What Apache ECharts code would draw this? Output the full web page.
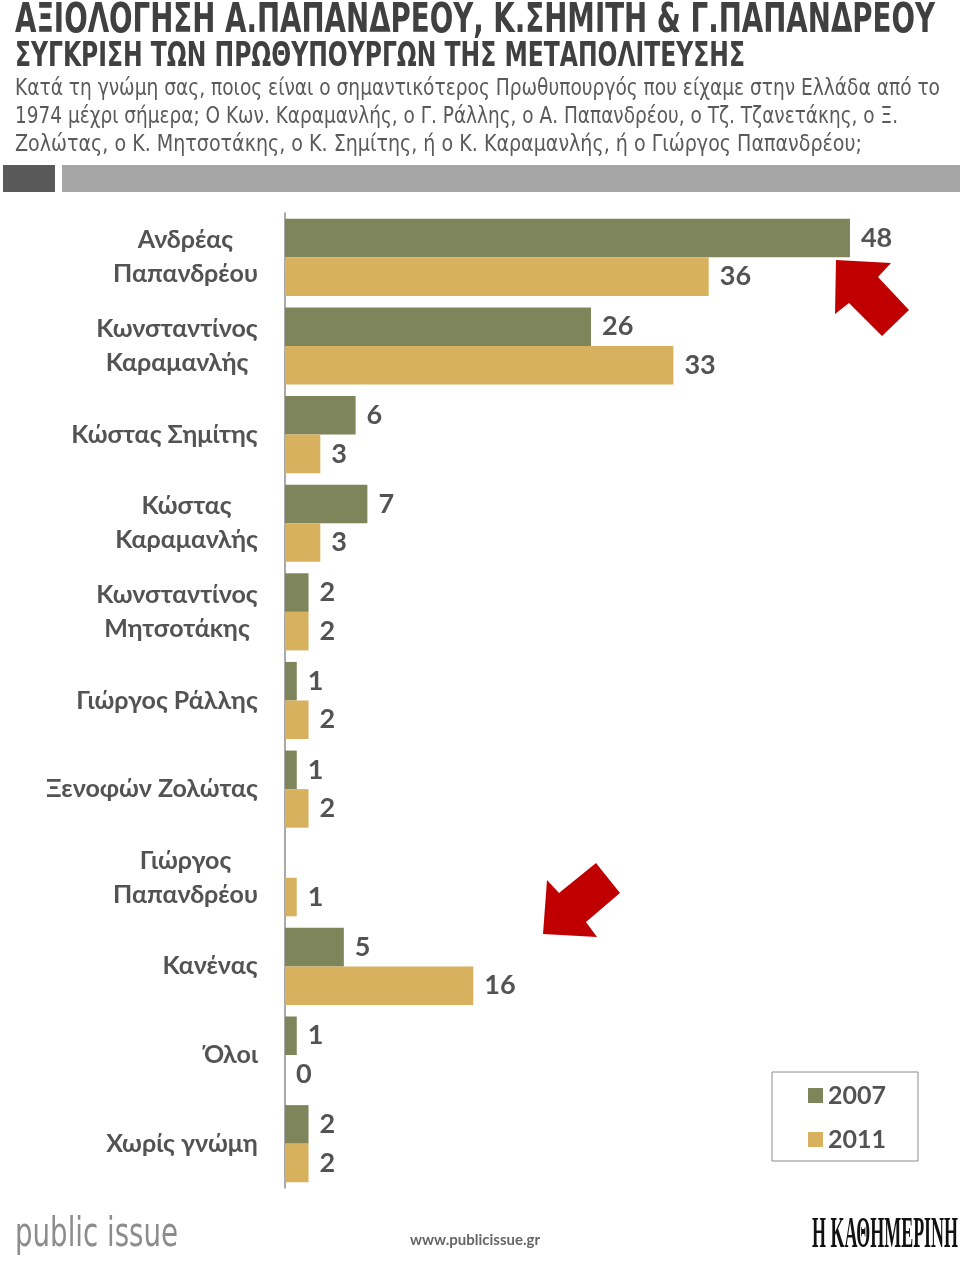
<!DOCTYPE html>
<html>
<head>
<meta charset="utf-8">
<script src="https://cdn.jsdelivr.net/npm/echarts@6/dist/echarts.min.js"></script>
<style>
  html, body { margin: 0; padding: 0; background: #fff; }
  #chart { width: 960px; height: 1266px; }
</style>
</head>
<body>
<div id="chart"></div>
<script>
// δεδομένα
var categories = [
  'Ανδρέας\nΠαπανδρέου',
  'Κωνσταντίνος\nΚαραμανλής',
  'Κώστας Σημίτης',
  'Κώστας\nΚαραμανλής',
  'Κωνσταντίνος\nΜητσοτάκης',
  'Γιώργος Ράλλης',
  'Ξενοφών Ζολώτας',
  'Γιώργος\nΠαπανδρέου',
  'Κανένας',
  'Όλοι',
  'Χωρίς γνώμη'
];
var seriesNames = ['2007', '2011'];
var values2007 = [48, 26, 6, 7, 2, 1, 1, null, 5, 1, 2];
var values2011 = [36, 33, 3, 3, 2, 2, 2, 1, 16, 0, 2];

var titleText = 'ΑΞΙΟΛΟΓΗΣΗ Α.ΠΑΠΑΝΔΡΕΟΥ, Κ.ΣΗΜΙΤΗ & Γ.ΠΑΠΑΝΔΡΕΟΥ';
var subtitleText = 'ΣΥΓΚΡΙΣΗ ΤΩΝ ΠΡΩΘΥΠΟΥΡΓΩΝ ΤΗΣ ΜΕΤΑΠΟΛΙΤΕΥΣΗΣ';
var questionLines = [
  'Κατά τη γνώμη σας, ποιος είναι ο σημαντικότερος Πρωθυπουργός που είχαμε στην Ελλάδα από το',
  '1974 μέχρι σήμερα; Ο Κων. Καραμανλής, ο Γ. Ράλλης, ο Α. Παπανδρέου, ο Τζ. Τζανετάκης, ο Ξ.',
  'Ζολώτας, ο Κ. Μητσοτάκης, ο Κ. Σημίτης, ή ο Κ. Καραμανλής, ή ο Γιώργος Παπανδρέου;'
];

var colors = ['#7f855a', '#d8b15e'];
var textGray = '#535353';
var labelFont = '"Lato", "Noto Sans", sans-serif';

var ctx = document.createElement('canvas').getContext('2d');
function textWidth(str, font) {
  ctx.font = font;
  return ctx.measureText(str).width;
}

// για τις ετικέτες δύο γραμμών: κάθε γραμμή στο κέντρο, το μπλοκ δεξιά
var rich = {};
categories.forEach(function (c, i) {
  var w = 0;
  c.split('\n').forEach(function (l) {
    w = Math.max(w, textWidth(l, 'bold 25px ' + labelFont));
  });
  rich['c' + i] = {
    width: Math.ceil(w), align: 'center', lineHeight: 34,
    fontSize: 25, fontWeight: 'bold', fontFamily: labelFont, color: textGray
  };
});

// κείμενο στριμωγμένο σε συγκεκριμένο πλάτος
var condFont = '"Liberation Sans Narrow", "DejaVu Sans Condensed", "Roboto", sans-serif';
function fitText(str, x, y, w, size, weight, color, family) {
  var font = weight + ' ' + size + 'px ' + family;
  var sx = w / textWidth(str, font);
  return {
    type: 'text', x: x, y: y, scaleX: sx, originX: 0, originY: 0,
    style: { text: str, font: font, fill: color, textVerticalAlign: 'top' }
  };
}

var graphics = [
  fitText(titleText, 15, 2, 920, 40, 'bold', '#404040', condFont),
  fitText(subtitleText, 15, 41, 730, 33, 'bold', '#404040', condFont),
  fitText(questionLines[0], 15, 78, 925, 23, 'normal', '#5a5a5a', condFont),
  fitText(questionLines[1], 15, 106, 883, 23, 'normal', '#5a5a5a', condFont),
  fitText(questionLines[2], 15, 134, 847, 23, 'normal', '#5a5a5a', condFont),
  { type: 'rect', shape: { x: 3, y: 165, width: 52, height: 27 }, style: { fill: '#595959' } },
  { type: 'rect', shape: { x: 62, y: 165, width: 898, height: 27 }, style: { fill: '#a6a6a6' } },
  {
    type: 'polygon',
    shape: { points: [[836, 260], [891, 263], [878, 277], [909, 310], [882, 336], [849, 303], [835, 314]] },
    style: { fill: '#c00000' }
  },
  {
    type: 'polygon',
    shape: { points: [[543, 934], [547, 880], [559, 893], [596, 863], [620, 893], [586, 922], [597, 937]] },
    style: { fill: '#c00000' }
  },
  fitText('public issue', 15, 1216, 163, 40, 'normal', '#8c8c8c', condFont),
  {
    type: 'text', x: 475, y: 1240,
    style: { text: 'www.publicissue.gr', font: 'bold 15px ' + labelFont, fill: '#666', textAlign: 'center', textVerticalAlign: 'middle' }
  },
  fitText('Η ΚΑΘΗΜΕΡΙΝΗ', 812, 1214, 146, 44, 'bold', '#111', '"Liberation Serif", serif')
];

var chart = echarts.init(document.getElementById('chart'));
chart.setOption({
  animation: false,
  color: colors,
  graphic: graphics,
  grid: { left: 285, top: 213, width: 588.5, height: 975, containLabel: false },
  legend: {
    data: seriesNames,
    orient: 'vertical',
    left: 772, top: 1072,
    padding: [11, 32, 9, 36],
    itemGap: 19,
    itemWidth: 15, itemHeight: 15,
    icon: 'rect',
    borderColor: '#8c8c8c', borderWidth: 1,
    textStyle: { fontSize: 25, fontWeight: 'bold', fontFamily: labelFont, color: textGray }
  },
  xAxis: { type: 'value', min: 0, max: 50, show: false },
  yAxis: {
    type: 'category',
    inverse: true,
    data: categories,
    axisLine: { lineStyle: { color: '#8c8c8c', width: 1.5 } },
    axisTick: { length: 9, lineStyle: { color: '#8c8c8c', width: 1.5 } },
    axisLabel: {
      margin: 27,
      formatter: function (v, i) {
        return v.split('\n').map(function (l) { return '{c' + i + '|' + l + '}'; }).join('\n');
      },
      rich: rich
    }
  },
  series: [
    {
      name: seriesNames[0], type: 'bar', data: values2007,
      barGap: '0%', barCategoryGap: '13%',
      label: { show: true, position: 'right', distance: 11, fontSize: 27, fontWeight: 'bold', fontFamily: labelFont, color: textGray }
    },
    {
      name: seriesNames[1], type: 'bar', data: values2011,
      barGap: '0%', barCategoryGap: '13%',
      label: { show: true, position: 'right', distance: 11, fontSize: 27, fontWeight: 'bold', fontFamily: labelFont, color: textGray }
    }
  ]
});
</script>
</body>
</html>
